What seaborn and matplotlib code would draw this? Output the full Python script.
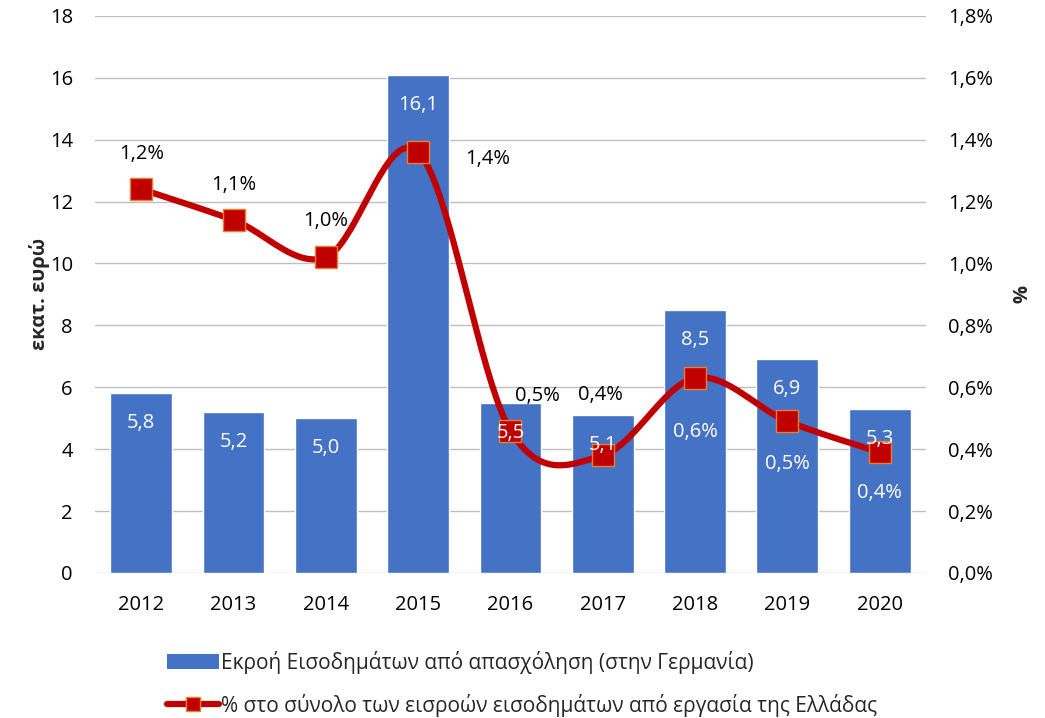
import numpy as np
import matplotlib
matplotlib.use("Agg")
import matplotlib.pyplot as plt
import seaborn as sns
from matplotlib.patches import Patch
from matplotlib.lines import Line2D

# data
years = ["2012", "2013", "2014", "2015", "2016", "2017", "2018", "2019", "2020"]
outflow = [5.8, 5.2, 5.0, 16.1, 5.5, 5.1, 8.5, 6.9, 5.3]          # εκατ. ευρώ
share_pct = [1.24, 1.14, 1.02, 1.36, 0.46, 0.38, 0.63, 0.49, 0.39]  # %

bar_label = "Εκροή Εισοδημάτων από απασχόληση (στην Γερμανία)"
line_label = "% στο σύνολο των εισροών εισοδημάτων από εργασία της Ελλάδας"

sns.set_theme(style="white")
plt.rcParams["font.family"] = ["Open Sans", "DejaVu Sans"]
FS = 14.5

BLUE = "#4472C4"
RED = "#C00000"
ORANGE = "#ED7D31"

fig = plt.figure(figsize=(10.45, 7.18), dpi=100)
ax = fig.add_axes([0.091, 0.202, 0.795, 0.776])

sns.barplot(x=years, y=outflow, color=BLUE, width=0.67, saturation=1, ax=ax, zorder=2)
ax.set_ylim(0, 18)
ax.set_yticks(np.arange(0, 19, 2))
ax.set_xlim(-0.5, len(years) - 0.5)
ax.grid(axis="y", color="#BFBFBF", lw=1, zorder=0)
ax.set_axisbelow(True)
for s in ax.spines.values():
    s.set_visible(False)
ax.tick_params(axis="both", length=0, labelsize=FS, colors="black")
ax.tick_params(axis="x", pad=16)
ax.tick_params(axis="y", pad=16)
ax.set_xlabel("")
ax.set_ylabel("εκατ. ευρώ", fontsize=FS, fontweight="bold", labelpad=0)

# secondary axis for the share line
ax2 = ax.twinx()
ax2.set_ylim(0, 1.8)
ax2.set_yticks(np.arange(0, 1.81, 0.2))
ax2.set_yticklabels([f"{v:.1f}%".replace(".", ",") for v in np.arange(0, 1.81, 0.2)])
for s in ax2.spines.values():
    s.set_visible(False)
ax2.tick_params(axis="y", length=0, labelsize=FS, pad=16, colors="black")
ax2.set_ylabel("%", fontsize=FS, fontweight="bold", rotation=270, labelpad=24)

# smooth line (Catmull-Rom through the points, like Excel's smoothed line)
xs = np.arange(len(years), dtype=float)
ys = np.array(share_pct)
px = np.concatenate([[xs[0]], xs, [xs[-1]]])
py = np.concatenate([[ys[0]], ys, [ys[-1]]])
sx, sy = [], []
t = np.linspace(0, 1, 40)
for i in range(1, len(px) - 2):
    p0, p1, p2, p3 = py[i - 1], py[i], py[i + 1], py[i + 2]
    q0, q1, q2, q3 = px[i - 1], px[i], px[i + 1], px[i + 2]
    sy.append(0.5 * (2 * p1 + (-p0 + p2) * t + (2 * p0 - 5 * p1 + 4 * p2 - p3) * t**2 + (-p0 + 3 * p1 - 3 * p2 + p3) * t**3))
    sx.append(0.5 * (2 * q1 + (-q0 + q2) * t + (2 * q0 - 5 * q1 + 4 * q2 - q3) * t**2 + (-q0 + 3 * q1 - 3 * q2 + q3) * t**3))
ax2.plot(np.concatenate(sx), np.concatenate(sy), color=RED, lw=4.5, solid_capstyle="round", zorder=3)
ax2.plot(xs, ys, ls="none", marker="s", ms=16, mfc=RED, mec=ORANGE, mew=1, zorder=4)

# line labels (offsets in pixels)
offsets = [(0, 35), (0, 35), (0, 36), (69, -7), (27, 35), (-2, 60), (0, -54), (0, -43), (0, -41)]
lcolors = ["black"] * 6 + ["white"] * 3
for x, v, off, c in zip(xs, share_pct, offsets, lcolors):
    ax2.annotate(f"{v:.1f}%".replace(".", ","), (x, v), xytext=off, textcoords="offset pixels",
                 ha="center", va="center", fontsize=FS, color=c, zorder=6)

# bar labels drawn on ax2 so they sit on top of the markers
for x, v in zip(xs, outflow):
    ax2.annotate(f"{v:.1f}".replace(".", ","), (x, v), xycoords=ax.transData, xytext=(0, -30),
                 textcoords="offset pixels", ha="center", va="center", fontsize=FS, color="white", zorder=6)

handles = [Patch(facecolor=BLUE, edgecolor="none"),
           Line2D([0], [0], color=RED, lw=4.5, marker="s", ms=10, mfc=RED, mec=ORANGE)]
fig.legend(handles, [bar_label, line_label], loc="upper left", bbox_to_anchor=(0.152, 0.105),
           frameon=False, fontsize=15, handlelength=2.5, handleheight=0.7, handletextpad=0.1,
           labelspacing=0.95, borderaxespad=0)

fig.savefig("out.png", dpi=100)
